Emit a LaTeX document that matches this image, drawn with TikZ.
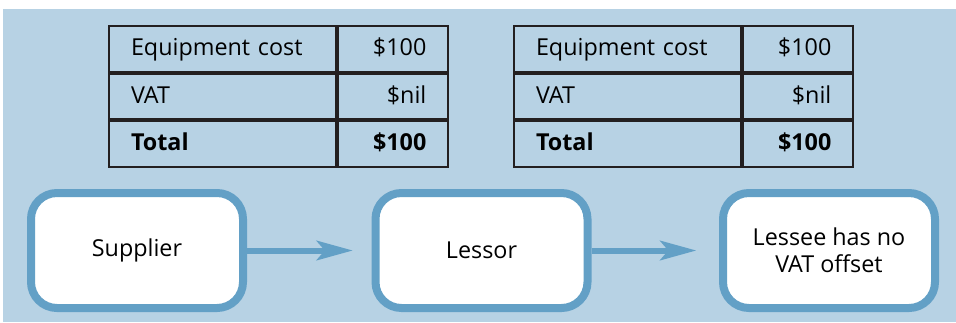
\documentclass[tikz,border=0pt]{standalone}
\usepackage{fontspec}
\setmainfont{Open Sans}
\usetikzlibrary{arrows.meta,positioning}
\definecolor{panelblue}{RGB}{183,210,228}
\definecolor{edgeblue}{RGB}{99,160,198}
\definecolor{rulegray}{RGB}{35,31,32}
\tikzset{
    cellbase/.style={draw=rulegray,line width=1.5pt,minimum height=34.25pt,text height=13pt,text depth=3pt,
        inner xsep=16.5pt,inner ysep=0pt,anchor=north west,font=\fontsize{17.5}{20}\selectfont},
    namecell/.style={cellbase,text width=137pt,align=left},
    sumcell/.style={cellbase,text width=50pt,align=right},
    stagebox/.style={draw=edgeblue,fill=white,line width=6pt,rounded corners=19.5pt,minimum width=159pt,
        minimum height=86.25pt,align=center,font=\fontsize{17.5}{20}\selectfont},
    flow/.style={-{Stealth[length=27pt,width=14.5pt,inset=6pt]},line width=4.5pt,edgeblue}
}

\begin{document}
\begin{tikzpicture}[x=0.75pt,y=-0.75pt]
    \useasboundingbox (0,0) rectangle (956,322);
    % Panel
    \fill[panelblue] (3,9) rectangle (956,322);
    % Tables
    \foreach \tx/\tn in {108/left,513/right}{
        \node[namecell] (\tn-cost) at (\tx,25) {Equipment cost};
        \node[sumcell] (\tn-costval) at (\tn-cost.north east) {\$100};
        \node[namecell] (\tn-vat) at (\tn-cost.south west) {VAT};
        \node[sumcell] (\tn-vatval) at (\tn-vat.north east) {\$nil};
        \node[namecell] (\tn-total) at (\tn-vat.south west) {\bfseries Total};
        \node[sumcell] (\tn-totalval) at (\tn-total.north east) {\bfseries\$100};
    }
    % Stages
    \node[stagebox] (supplier) at (137,250.5) {Supplier};
    \node[stagebox] (lessor) at (481.5,250.5) {Lessor};
    \node[stagebox] (lessee) at (829,250.5) {Lessee has no\\VAT offset};
    % Flow
    \draw[flow,shorten >=14pt] (supplier) -- (lessor);
    \draw[flow,shorten >=17pt] (lessor) -- (lessee);
\end{tikzpicture}
\end{document}
